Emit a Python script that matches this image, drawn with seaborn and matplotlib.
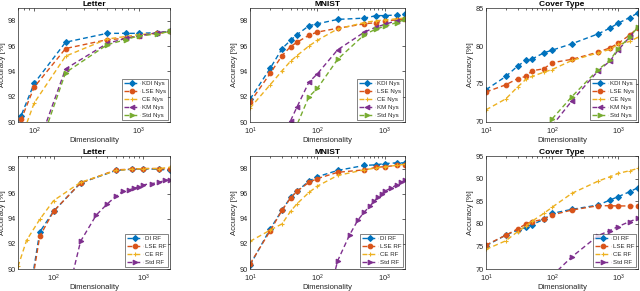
import numpy as np
import pandas as pd
import matplotlib
matplotlib.use("Agg")
import matplotlib.pyplot as plt
import seaborn as sns
from matplotlib.ticker import LogLocator, NullFormatter

# ---------------- data ----------------
dims = [10, 20, 30, 40, 50, 75, 100, 200, 500, 750, 1000, 1500, 2000]
dims_letter = [50, 75, 100, 200, 500, 750, 1000, 1500, 2000]
dims_std_rf = [150, 200, 300, 400, 500, 600, 700, 800, 900, 1000, 1250, 1500, 1750, 2000]
dims_cov_std = [100, 200, 500, 750, 1000, 1500, 2000]
dims_letter_rf = [40, 50, 70, 100, 200, 500, 750, 1000, 1500, 2000]

# Letter (Nystrom)
letter_kdi_nys = [86.5, 90.5, 93.05, 96.3, 97.0, 97.0, 97.0, 97.05, 97.15]
letter_lse_nys = [86.0, 90.2, 92.75, 95.8, 96.5, 96.6, 96.8, 97.0, 97.15]
letter_ce_nys = [84.0, 88.7, 91.5, 95.2, 96.55, 96.75, 96.9, 97.0, 97.1]
letter_km_nys = [80.0, 84.5, 87.3, 94.2, 96.2, 96.6, 96.8, 97.05, 97.15]
letter_std_nys = [80.0, 84.0, 86.8, 93.9, 96.1, 96.5, 96.8, 96.95, 97.15]

# MNIST (Nystrom)
mnist_kdi_nys = [91.8, 94.25, 95.8, 96.45, 96.9, 97.6, 97.75, 98.1, 98.2, 98.4, 98.4, 98.45, 98.5]
mnist_lse_nys = [91.55, 93.85, 95.25, 95.95, 96.3, 96.85, 97.1, 97.4, 97.75, 97.85, 98.0, 98.05, 98.15]
mnist_ce_nys = [91.1, 92.95, 94.05, 94.8, 95.25, 96.0, 96.45, 97.35, 97.85, 98.0, 98.05, 98.15, 98.2]
mnist_km_nys = [80.0, 84.0, 87.0, 90.1, 91.2, 93.15, 93.8, 95.7, 97.1, 97.5, 97.7, 98.0, 98.15]
mnist_std_nys = [78.0, 82.0, 85.5, 87.8, 89.8, 92.0, 92.65, 94.95, 96.9, 97.35, 97.55, 97.85, 98.1]

# Cover Type (Nystrom)
cov_kdi_nys = [74.25, 76.0, 77.35, 78.1, 78.3, 79.1, 79.45, 80.3, 81.6, 82.35, 83.0, 83.75, 84.35]
cov_lse_nys = [73.95, 74.9, 75.7, 76.0, 76.75, 77.0, 77.8, 78.25, 79.2, 79.75, 80.35, 81.45, 82.4]
cov_ce_nys = [71.6, 73.05, 74.6, 75.6, 76.0, 76.55, 76.9, 78.1, 79.1, 79.55, 80.2, 80.6, 81.15]
cov_km_nys = [69.5, 72.8, 76.75, 78.0, 79.45, 81.2, 82.45]
cov_std_nys = [70.4, 73.35, 76.9, 78.1, 79.65, 81.2, 82.5]

# Letter (RF)
letter_di_rf = [84.0, 86.5, 92.95, 94.6, 96.85, 97.85, 97.95, 97.97, 97.95, 97.85]
letter_lse_rf = [84.0, 86.3, 92.6, 94.6, 96.85, 97.9, 97.95, 98.0, 98.0, 97.95]
letter_ce_rf = [90.2, 92.3, 93.95, 95.45, 96.9, 97.85, 97.95, 98.0, 98.0, 98.1]
letter_std_rf = [88.5, 92.2, 94.3, 95.2, 95.8, 96.2, 96.3, 96.45, 96.55, 96.7, 96.8, 96.9, 97.05, 97.1]

# MNIST (RF)
mnist_di_rf = [90.3, 93.2, 94.7, 95.7, 96.2, 97.0, 97.35, 97.85, 98.25, 98.3, 98.4, 98.45, 98.45]
mnist_lse_rf = [90.4, 93.05, 94.7, 95.65, 96.2, 96.9, 97.2, 97.7, 97.9, 98.1, 98.15, 98.25, 98.3]
mnist_ce_rf = [92.2, 93.1, 93.6, 94.6, 95.2, 96.1, 96.6, 97.45, 97.9, 98.05, 98.15, 98.25, 98.35]
mnist_std_rf = [88.0, 90.65, 92.7, 93.9, 94.55, 95.0, 95.4, 95.75, 95.95, 96.2, 96.45, 96.7, 96.9, 97.05]

# Cover Type (RF)
cov_di_rf = [75.15, 77.5, 78.6, 79.2, 79.8, 81.0, 82.3, 83.2, 84.15, 85.25, 86.0, 87.1, 88.0]
cov_lse_rf = [75.3, 77.5, 78.85, 79.95, 80.5, 81.0, 81.95, 83.05, 84.0, 84.0, 83.95, 83.95, 83.95]
cov_ce_rf = [74.35, 76.25, 78.25, 79.5, 80.6, 82.3, 83.65, 86.75, 89.45, 90.4, 91.15, 91.75, 92.25]
cov_std_rf = [68.5, 72.7, 77.4, 78.5, 79.4, 80.5, 81.2]

# ---------------- style ----------------
sns.set_theme(style="white")
plt.rcParams['font.family'] = ['Liberation Sans', 'DejaVu Sans']
plt.rcParams['mathtext.default'] = 'regular'

BLUE = "#0072BD"
ORANGE = "#D95319"
YELLOW = "#EDB120"
PURPLE = "#7E2F8E"
GREEN = "#77AC30"
TXT = "#262626"

fig = plt.figure(figsize=(6.4, 2.91), dpi=100)

cols = [(18, 152), (250, 155), (486, 152)]
rows = [(8, 122), (156, 269)]
W, H = 640.0, 291.0


def make_ax(r, c):
    x0, w = cols[c]
    t, b = rows[r]
    return fig.add_axes([x0 / W, 1 - b / H, w / W, (b - t) / H])


def draw(ax, series, title, xlim, ylim, yticks):
    for (x, y, lab, col, mk, ms, mfc) in series:
        df = pd.DataFrame({"x": x, "y": y})
        sns.lineplot(data=df, x="x", y="y", ax=ax, color=col, marker=mk,
                     markersize=ms, markerfacecolor=mfc, markeredgecolor=col,
                     markeredgewidth=0.8, linestyle=(0, (3.5, 2.2)), linewidth=1.0,
                     label=lab, estimator=None, sort=False)
    ax.set_xscale("log")
    ax.set_xlim(*xlim)
    ax.set_ylim(*ylim)
    ax.set_yticks(yticks)
    ax.xaxis.set_minor_locator(LogLocator(base=10, subs=np.arange(2, 10), numticks=20))
    ax.xaxis.set_minor_formatter(NullFormatter())
    ax.tick_params(axis="both", which="both", direction="in", labelsize=5.3,
                   colors=TXT, length=2.5, width=0.5, pad=1.5)
    ax.tick_params(axis="x", which="both", pad=2.5)
    ax.tick_params(axis="x", which="minor", length=1.5)
    ax.tick_params(top=True, right=True, which="both")
    for s in ax.spines.values():
        s.set_color(TXT)
        s.set_linewidth(0.5)
    ax.set_title(title, fontsize=6, fontweight="bold", pad=1.2, color="black")
    ax.set_xlabel("Dimensionality", fontsize=5.5, labelpad=0.5, color=TXT)
    ax.set_ylabel("Accuracy [%]", fontsize=5.5, labelpad=1, color=TXT)
    leg = ax.legend(loc="lower right", prop={"size": 4.4}, frameon=True, fancybox=False,
                    handlelength=2.6, handletextpad=0.3, borderpad=0.35,
                    labelspacing=0.45, borderaxespad=0.25)
    leg.get_frame().set_edgecolor(TXT)
    leg.get_frame().set_linewidth(0.5)
    for t in leg.get_texts():
        t.set_color(TXT)


def nys_series(x_main, kdi, lse, ce, km, std, x_km=None, x_std=None):
    x_km = x_main if x_km is None else x_km
    x_std = x_main if x_std is None else x_std
    return [
        (x_main, kdi, "KDI Nys", BLUE, "D", 3.0, BLUE),
        (x_main, lse, "LSE Nys", ORANGE, "o", 3.3, ORANGE),
        (x_main, ce, "CE Nys", YELLOW, "+", 3.3, YELLOW),
        (x_km, km, "KM Nys", PURPLE, "<", 3.3, PURPLE),
        (x_std, std, "Std Nys", GREEN, ">", 3.3, GREEN),
    ]


def rf_series(x_main, di, lse, ce, x_std, std):
    return [
        (x_main, di, "DI RF", BLUE, "D", 3.0, BLUE),
        (x_main, lse, "LSE RF", ORANGE, "o", 3.3, ORANGE),
        (x_main, ce, "CE RF", YELLOW, "+", 3.3, YELLOW),
        (x_std, std, "Std RF", PURPLE, ">", 3.3, PURPLE),
    ]


ax = make_ax(0, 0)
draw(ax, nys_series(dims_letter, letter_kdi_nys, letter_lse_nys, letter_ce_nys,
                    letter_km_nys, letter_std_nys),
     "Letter", (70, 2000), (90, 99), [90, 92, 94, 96, 98])

ax = make_ax(0, 1)
draw(ax, nys_series(dims, mnist_kdi_nys, mnist_lse_nys, mnist_ce_nys,
                    mnist_km_nys, mnist_std_nys),
     "MNIST", (10, 2000), (90, 99), [90, 92, 94, 96, 98])

ax = make_ax(0, 2)
draw(ax, nys_series(dims, cov_kdi_nys, cov_lse_nys, cov_ce_nys,
                    cov_km_nys, cov_std_nys, x_km=dims_cov_std, x_std=dims_cov_std),
     "Cover Type", (10, 2000), (70, 85), [70, 75, 80, 85])

ax = make_ax(1, 0)
draw(ax, rf_series(dims_letter_rf, letter_di_rf, letter_lse_rf, letter_ce_rf,
                   dims_std_rf, letter_std_rf),
     "Letter", (40, 2000), (90, 99), [90, 92, 94, 96, 98])

ax = make_ax(1, 1)
draw(ax, rf_series(dims, mnist_di_rf, mnist_lse_rf, mnist_ce_rf,
                   dims_std_rf, mnist_std_rf),
     "MNIST", (10, 2000), (90, 99), [90, 92, 94, 96, 98])

ax = make_ax(1, 2)
draw(ax, rf_series(dims, cov_di_rf, cov_lse_rf, cov_ce_rf,
                   dims_cov_std, cov_std_rf),
     "Cover Type", (10, 2000), (70, 95), [70, 75, 80, 85, 90, 95])

fig.savefig("out.png", dpi=100)
